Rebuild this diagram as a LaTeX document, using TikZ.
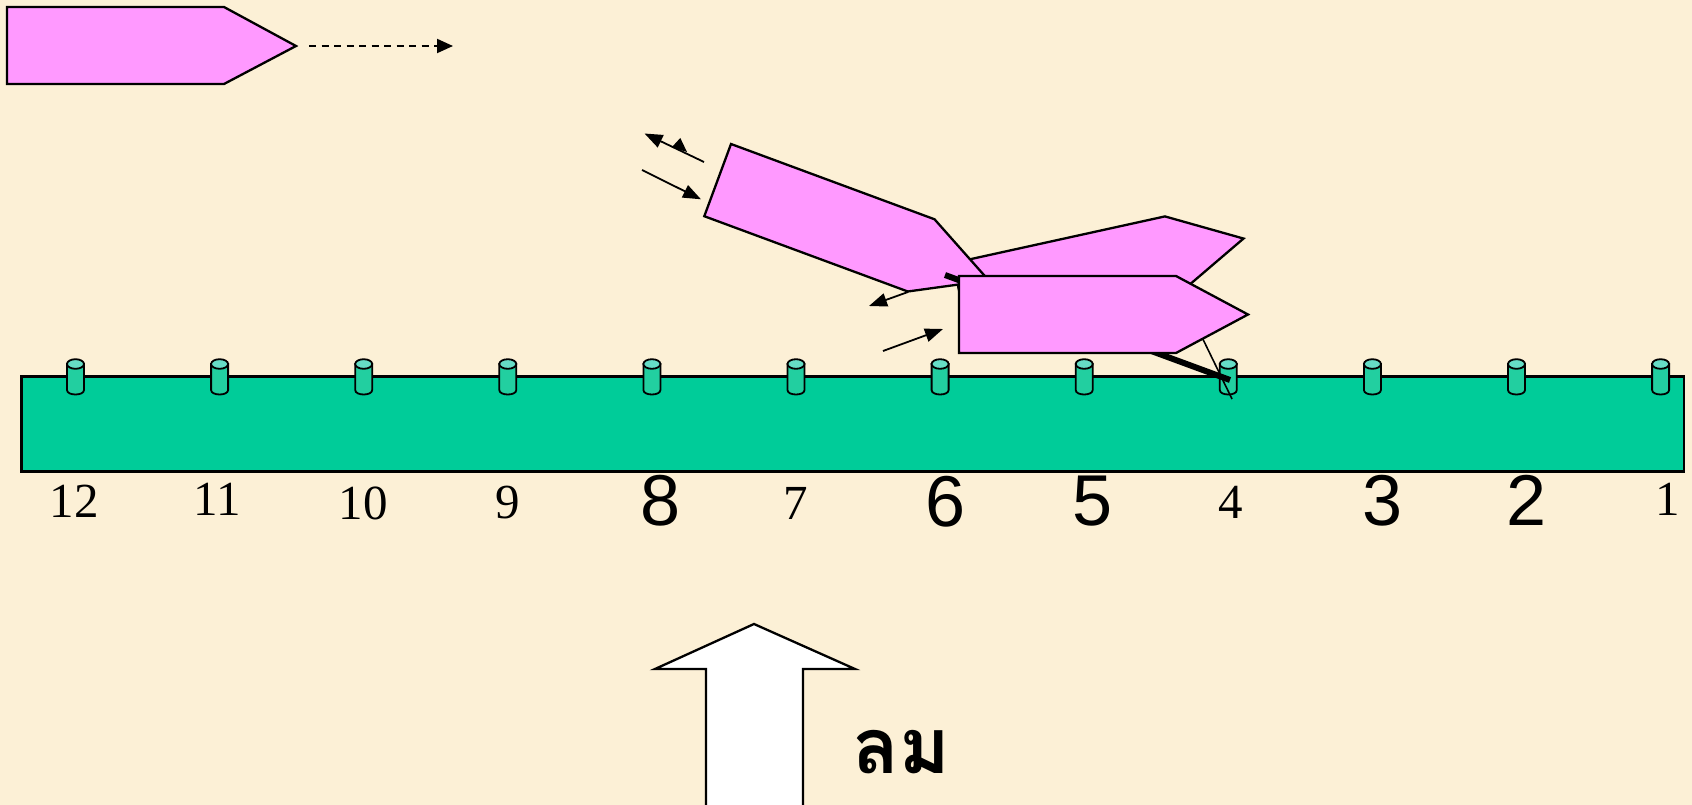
\documentclass[tikz,border=0pt]{standalone}
\usepackage{fontspec}
\usepackage{tikz}
\usetikzlibrary{arrows.meta}
\newfontfamily\serifnum{Liberation Serif}
\newfontfamily\sansnum{Liberation Sans}
\newfontfamily\thaifont[Script=Thai]{Loma}
\definecolor{paper}{HTML}{FCF0D6}
\definecolor{pink}{HTML}{FF99FF}
\definecolor{jetty}{HTML}{00CC99}
\definecolor{post}{HTML}{22CFA0}
\definecolor{posttop}{HTML}{66DDC6}
\newcommand{\hull}{(0,0) -- (217,0) -- (289,38.5) -- (217,77) -- (0,77) -- cycle}
\newcommand{\pile}[1]{\filldraw[post] (#1-8.5,364) -- (#1-8.5,390) .. controls (#1-8.5,396) and (#1+8.5,396) .. (#1+8.5,390) -- (#1+8.5,364) -- cycle; \filldraw[posttop] (#1,364) ellipse[x radius=8.5,y radius=4.8];}

\begin{document}
\begin{tikzpicture}[x=1pt,y=-1pt,>={Triangle[length=18pt,width=13.5pt]},boat/.style={draw=black,fill=pink,line width=2.3pt,line join=miter},arr/.style={->,line width=1.8pt},rope/.style={line width=6pt},post/.style={draw=black,fill=post,line width=1.8pt},posttop/.style={draw=black,fill=posttop,line width=1.8pt},small/.style={font=\serifnum\fontsize{49}{59}\selectfont,anchor=base},big/.style={font=\sansnum\fontsize{72}{86}\selectfont,anchor=base}]
\useasboundingbox[fill=paper] (0,0) rectangle (1692,805);
% jetty and piles
\filldraw[draw=black,fill=jetty,line width=2.3pt] (21.5,376.5) rectangle (1684,471.5);
\foreach \px in {0,...,11} {\pile{75.5+144.1*\px}}
% sailing boat and its course
\draw[boat] (7,7) -- (224,7) -- (296,46) -- (224,84) -- (7,84) -- cycle;
\coordinate (dashA) at (309,46);
\coordinate (dashB) at (453,46);
\draw[->,>={Triangle[length=16pt,width=14pt]},line width=2pt,dash pattern=on 7pt off 5.5pt] (dashA) -- (dashB);
% boats at the jetty
\draw[boat,shift={(953,263)},rotate=12.4] \hull;
\draw[boat,shift={(731,144)},rotate=-20.3] \hull;
\coordinate (ropeA) at (945,275);
\coordinate (ropeB) at (1230,380);
\draw[rope] (ropeA) -- (ropeB);
\coordinate (lineA) at (1180,292);
\coordinate (lineB) at (1232,399);
\draw[line width=1.6pt] (lineA) -- (lineB);
\draw[boat] (959,276) -- (1176,276) -- (1248,314.5) -- (1176,353) -- (959,353) -- cycle;
% small arrows
\coordinate (sternA) at (704,162);
\coordinate (sternB) at (644.5,133.5);
\draw[arr] (sternA) -- (sternB);
\fill (680.3,138) -- (671.7,147.3) -- (687,152) -- cycle;
\coordinate (pushA) at (642,170);
\coordinate (pushB) at (701,199.3);
\draw[arr] (pushA) -- (pushB);
\coordinate (bowA) at (908,292);
\coordinate (bowB) at (869,306);
\draw[arr] (bowA) -- (bowB);
\coordinate (sideA) at (883,351);
\coordinate (sideB) at (943,329);
\draw[arr] (sideA) -- (sideB);
% pile numbers
\node[small] (n12) at (74,517) {12};
\node[small] (n11) at (217,515) {11};
\node[small] (n10) at (363,519) {10};
\node[small] (n9) at (508,518.5) {9};
\node[big] (n8) at (661,525) {8};
\node[small] (n7) at (796,519) {7};
\node[big] (n6) at (946,526) {6};
\node[big] (n5) at (1093,525) {5};
\node[small] (n4) at (1231,518) {4};
\node[big] (n3) at (1383,525) {3};
\node[big] (n2) at (1527,525.5) {2};
\node[small] (n1) at (1668,515) {1};
% wind
\filldraw[draw=black,fill=white,line width=2.3pt] (754,624) -- (855,669) -- (803,669) -- (803,815) -- (706,815) -- (706,669) -- (655,669) -- cycle;
\node[font=\thaifont\bfseries\fontsize{77}{92}\selectfont,anchor=base] (wind) at (901,773) {ลม};
\end{tikzpicture}
\end{document}
